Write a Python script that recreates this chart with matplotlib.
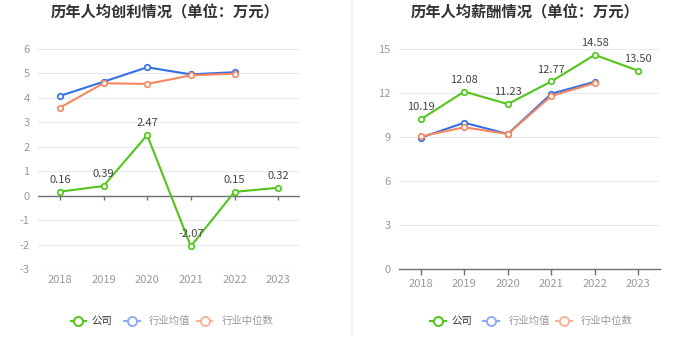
import matplotlib
matplotlib.use("Agg")
import matplotlib.pyplot as plt
from matplotlib.lines import Line2D

plt.rcParams['font.family'] = ['Noto Sans CJK SC', 'DejaVu Sans']

years = ['2018', '2019', '2020', '2021', '2022', '2023']

# Left chart: 历年人均创利情况
profit_company = [0.16, 0.39, 2.47, -2.07, 0.15, 0.32]
profit_ind_mean = [4.07, 4.65, 5.24, 4.95, 5.04]
profit_ind_median = [3.59, 4.59, 4.56, 4.91, 4.98]

# Right chart: 历年人均薪酬情况
salary_company = [10.19, 12.08, 11.23, 12.77, 14.58, 13.50]
salary_ind_mean = [8.94, 9.96, 9.19, 11.93, 12.75]
salary_ind_median = [9.03, 9.65, 9.19, 11.78, 12.66]

GREEN = '#52c41a'
BLUE = '#3370e6'
ORANGE = '#f6875f'
GRID = '#e6eaf2'
AXIS = '#6e7079'
TICK = '#999999'

W, H = 700, 359
fig = plt.figure(figsize=(W / 100, H / 100), dpi=100)


def px_axes(x0, x1, ytop, ybot):
    return fig.add_axes([x0 / W, 1 - ybot / H, (x1 - x0) / W, (ybot - ytop) / H])


def style(ax, ymin, ymax, step):
    ax.set_xlim(-0.5, len(years) - 0.5)
    ax.set_ylim(ymin, ymax)
    ticks = list(range(ymin, ymax + 1, step))
    ax.set_yticks(ticks)
    ax.set_yticklabels([str(t) for t in ticks])
    ax.set_xticks(range(len(years)))
    ax.set_xticklabels(years)
    for s in ax.spines.values():
        s.set_visible(False)
    ax.tick_params(axis='y', length=0, pad=6, labelsize=8, labelcolor=TICK)
    ax.tick_params(axis='x', length=0, pad=4, labelsize=8, labelcolor=TICK)
    for t in ticks:
        ax.axhline(t, color=GRID, lw=0.8, zorder=0)


def series(ax, vals, color, z):
    ax.plot(range(len(vals)), vals, color=color, lw=1.5, marker='o', ms=4,
            mfc='white', mec=color, mew=1.2, zorder=z, clip_on=False)


def labels(ax, vals):
    for i, v in enumerate(vals):
        ax.annotate(f'{v:.2f}', (i, v), xytext=(0, 5), textcoords='offset points',
                    ha='center', va='bottom', fontsize=8, color='#444444', zorder=10)


# ---- left
ax1 = px_axes(38, 300, 48.7, 269)
style(ax1, -3, 6, 1)
ax1.axhline(0, color=AXIS, lw=1, zorder=1)
ax1.vlines(range(len(years)), 0, -0.2, color=AXIS, lw=1, zorder=1)
series(ax1, profit_ind_mean, BLUE, 3)
series(ax1, profit_ind_median, ORANGE, 4)
series(ax1, profit_company, GREEN, 5)
labels(ax1, profit_company)

# ---- right
ax2 = px_axes(399, 660, 48.7, 269)
style(ax2, 0, 15, 3)
ax2.spines['bottom'].set_visible(True)
ax2.spines['bottom'].set_color(AXIS)
ax2.spines['bottom'].set_linewidth(1)
ax2.tick_params(axis='x', length=4, width=1, color=AXIS, pad=3)
series(ax2, salary_ind_mean, BLUE, 3)
series(ax2, salary_ind_median, ORANGE, 4)
series(ax2, salary_company, GREEN, 5)
labels(ax2, salary_company)

# titles
fig.text(165.5 / W, 1 - 12.7 / H, '历年人均创利情况（单位：万元）', ha='center', va='center',
         fontsize=11, fontweight='bold', color='#333333')
fig.text(525.5 / W, 1 - 12.7 / H, '历年人均薪酬情况（单位：万元）', ha='center', va='center',
         fontsize=11, fontweight='bold', color='#333333')

# divider
fig.add_artist(Line2D([351.5 / W, 351.5 / W], [1 - 335 / H, 1], transform=fig.transFigure,
                      color='#f2f2f2', lw=1.5))

# legends
def legend(x0):
    ly = 1 - 321 / H
    items = [('公司', GREEN, '#333333', 0, 21),
             ('行业均值', '#8eaaf2', '#999999', 53.3, 78.3),
             ('行业中位数', '#f9b29a', '#999999', 126.3, 151.2)]
    for name, col, tcol, lx, tx in items:
        fig.add_artist(Line2D([(x0 + lx) / W, (x0 + lx + 15.5) / W], [ly, ly],
                              transform=fig.transFigure, color=col, lw=1.5))
        fig.add_artist(Line2D([(x0 + lx + 7.75) / W], [ly], transform=fig.transFigure,
                              color=col, marker='o', ms=6.5, mfc='white', mec=col, mew=1.4))
        fig.text((x0 + tx) / W, ly, name, ha='left', va='center', fontsize=7.5, color=tcol)

legend(70.7)
legend(430)

fig.savefig('out.png', dpi=100, facecolor='white')
